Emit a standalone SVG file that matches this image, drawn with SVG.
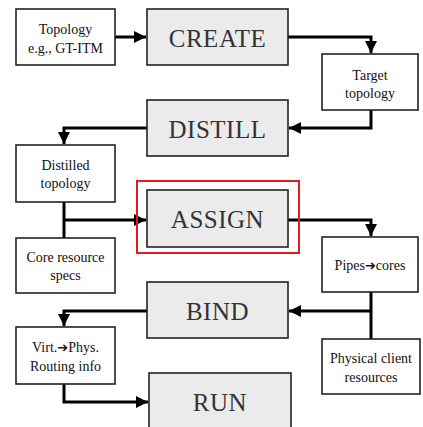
<svg xmlns="http://www.w3.org/2000/svg" width="423" height="427" viewBox="0 0 423 427">
<style>
.box{fill:#fff;stroke:#222;stroke-width:1.6}
.stage{fill:#ebebeb;stroke:#222;stroke-width:1.6}
.c{fill:none;stroke:#000;stroke-width:3;stroke-linejoin:miter}
</style>
<defs>
<marker id="ah" markerUnits="userSpaceOnUse" markerWidth="14" markerHeight="14" viewBox="0 0 14 14" refX="12" refY="7" orient="auto">
<path d="M0,1 L12,7 L0,13 Z" fill="#000"/>
</marker>
</defs>
<g id="connectors">
<path class="c" d="M115,37 H146" marker-end="url(#ah)"/>
<path class="c" d="M288,37 H371 V53" marker-end="url(#ah)"/>
<path class="c" d="M371,110 V128 H289" marker-end="url(#ah)"/>
<path class="c" d="M147,128 H64 V144" marker-end="url(#ah)"/>
<path class="c" d="M64,202 V238"/>
<path class="c" d="M64,220 H146" marker-end="url(#ah)"/>
<path class="c" d="M288,220 H371 V236" marker-end="url(#ah)"/>
<path class="c" d="M371,292 V339"/>
<path class="c" d="M371,311 H289" marker-end="url(#ah)"/>
<path class="c" d="M147,311 H64 V326" marker-end="url(#ah)"/>
<path class="c" d="M64,384 V402 H148" marker-end="url(#ah)"/>
</g>
<g font-family="'Liberation Serif', 'DejaVu Serif', serif" text-anchor="middle">
<g id="topology">
<rect class="box" x="16" y="9" width="99" height="56"/>
<text x="65.5" y="34" font-size="14" fill="#111">Topology</text>
<text x="65.5" y="53" font-size="14" fill="#111">e.g., GT-ITM</text>
</g>
<g id="create">
<rect class="stage" x="147" y="9" width="141" height="56"/>
<text x="217.5" y="47" font-size="25" fill="#333" letter-spacing="0.5">CREATE</text>
</g>
<g id="target">
<rect class="box" x="322" y="54" width="96" height="56"/>
<text x="370" y="80" font-size="14" fill="#111">Target</text>
<text x="370" y="98" font-size="14" fill="#111">topology</text>
</g>
<g id="distill">
<rect class="stage" x="147" y="100" width="141" height="56"/>
<text x="217.5" y="138" font-size="25" fill="#333" letter-spacing="0.5">DISTILL</text>
</g>
<g id="distilled">
<rect class="box" x="16" y="145" width="99" height="57"/>
<text x="65.5" y="170" font-size="14" fill="#111">Distilled</text>
<text x="65.5" y="188" font-size="14" fill="#111">topology</text>
</g>
<g id="assign">
<rect x="137" y="181" width="162" height="72" fill="none" stroke="#e31b1b" stroke-width="2"/>
<rect class="stage" x="147" y="190" width="141" height="57"/>
<text x="217.5" y="228" font-size="25" fill="#333" letter-spacing="0.5">ASSIGN</text>
</g>
<g id="core">
<rect class="box" x="16" y="238" width="99" height="55"/>
<text x="65.5" y="262" font-size="14" fill="#111">Core resource</text>
<text x="65.5" y="280" font-size="14" fill="#111">specs</text>
</g>
<g id="pipes">
<rect class="box" x="322" y="237" width="96" height="55"/>
<text x="370" y="270" font-size="14" fill="#111">Pipes<tspan font-family="'DejaVu Sans', sans-serif" font-size="13">➔</tspan>cores</text>
</g>
<g id="bind">
<rect class="stage" x="147" y="282" width="141" height="56"/>
<text x="217.5" y="320" font-size="25" fill="#333" letter-spacing="0.5">BIND</text>
</g>
<g id="physical">
<rect class="box" x="322" y="339" width="98" height="55"/>
<text x="371" y="363" font-size="14" fill="#111">Physical client</text>
<text x="371" y="382" font-size="14" fill="#111">resources</text>
</g>
<g id="virt">
<rect class="box" x="16" y="327" width="99" height="57"/>
<text x="65.5" y="352" font-size="14" fill="#111">Virt.<tspan font-family="'DejaVu Sans', sans-serif" font-size="13">➔</tspan>Phys.</text>
<text x="65.5" y="371" font-size="14" fill="#111">Routing info</text>
</g>
<g id="run">
<rect class="stage" x="149" y="373" width="142" height="60"/>
<text x="220" y="411" font-size="25" fill="#333" letter-spacing="0.5">RUN</text>
</g>
</g>
</svg>
